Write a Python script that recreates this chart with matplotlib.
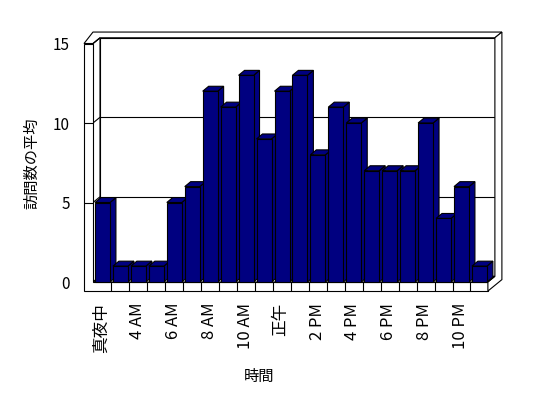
import numpy as np
import matplotlib
matplotlib.use('Agg')
import matplotlib.pyplot as plt
from matplotlib.patches import Polygon

plt.rcParams['font.family'] = ['Noto Sans CJK JP', 'DejaVu Sans']

# data
visits = [5, 1, 1, 1, 5, 6, 12, 11, 13, 9, 12, 13,
          8, 11, 10, 7, 7, 7, 10, 4, 6, 1]
hour_labels = ['真夜中', '4 AM', '6 AM', '8 AM', '10 AM', '正午',
               '2 PM', '4 PM', '6 PM', '8 PM', '10 PM']
y_ticks = [0, 5, 10, 15]

NAVY = '#000080'
LW = 0.8

# 3d box geometry (data units)
XL, XR = -0.53, len(visits) - 0.53   # inner floor edges, front plane
WALL = 0.5       # left wall thickness
FLOOR = 0.57     # floor thickness
DX, DY = 0.39, 0.36      # depth of walls
BW = 0.418               # half bar width
BDX, BDY = 0.33, 0.31    # depth of bars
TOP = y_ticks[-1]

fig = plt.figure(figsize=(5.48, 3.98), dpi=100)
ax = fig.add_axes([78 / 548, 98 / 398, 434 / 548, 272 / 398])
ax.set_xlim(-1.365, 22.813)
ax.set_ylim(-1.132, 15.975)


def poly(pts, z, fc='white'):
    ax.add_patch(Polygon(pts, closed=True, facecolor=fc, edgecolor='black',
                         linewidth=LW, zorder=z, joinstyle='miter'))


def line(xs, ys, z):
    ax.plot(xs, ys, color='black', linewidth=LW, zorder=z,
            solid_capstyle='butt')


# back wall + left wall inner face
poly([(XL + DX, DY), (XR + DX, DY), (XR + DX, TOP + DY), (XL + DX, TOP + DY)], 1)
poly([(XL, 0), (XL + DX, DY), (XL + DX, TOP + DY), (XL, TOP)], 1)
for v in y_ticks[1:-1]:
    line([XL + DX, XR + DX], [v + DY, v + DY], 1.5)
    line([XL, XL + DX], [v, v + DY], 1.5)
    line([XL - WALL, XL], [v, v], 2.5)

# floor top + front L shaped face
poly([(XL, 0), (XR, 0), (XR + DX, DY), (XL + DX, DY)], 1.2)
poly([(XL - WALL, -FLOOR), (XR, -FLOOR), (XR, 0), (XL, 0), (XL, TOP),
      (XL - WALL, TOP)], 2)
for i in range(len(visits) - 1):
    line([i + 0.5, i + 0.5], [-FLOOR, 0], 2.5)

# wall tops and right end
poly([(XL - WALL, TOP), (XL, TOP), (XL + DX, TOP + DY), (XR + DX, TOP + DY),
      (XR + 2 * DX, TOP + 2 * DY), (XL, TOP + 2 * DY)], 2)
line([XL, XL + DX], [TOP, TOP + DY], 2.5)
poly([(XR, -FLOOR), (XR, 0), (XR + DX, DY), (XR + DX, TOP + DY),
      (XR + 2 * DX, TOP + 2 * DY), (XR + 2 * DX, 2 * DY - FLOOR)], 2)
line([XR, XR + DX], [0, DY], 2.5)

# bars: side and top faces, then the front faces
for i, v in enumerate(visits):
    poly([(i + BW, 0), (i + BW + BDX, BDY), (i + BW + BDX, v + BDY), (i + BW, v)],
         3 + i * 0.01, NAVY)
    poly([(i - BW, v), (i + BW, v), (i + BW + BDX, v + BDY), (i - BW + BDX, v + BDY)],
         3 + i * 0.01 + 0.005, NAVY)
ax.bar(np.arange(len(visits)), visits, width=2 * BW, color=NAVY,
       edgecolor='black', linewidth=LW, zorder=4)

# ticks
ax.set_yticks(y_ticks)
ax.set_yticklabels([str(t) for t in y_ticks], fontsize=11)
ax.set_xticks(np.arange(0, len(visits), 2) - 0.05)
ax.set_xticklabels(hour_labels, rotation=90, fontsize=12)
ax.tick_params(axis='y', length=0, pad=6)
ax.tick_params(axis='x', length=0, pad=2)
for s in ax.spines.values():
    s.set_visible(False)
ax.patch.set_visible(False)

fig.text(32 / 548, 1 - 163 / 398, '訪問数の平均', rotation=90,
         ha='center', va='center', fontsize=11)
fig.text(259 / 548, 1 - 376 / 398, '時間', ha='center', va='center',
         fontsize=11)

fig.savefig('out.png', dpi=100)
